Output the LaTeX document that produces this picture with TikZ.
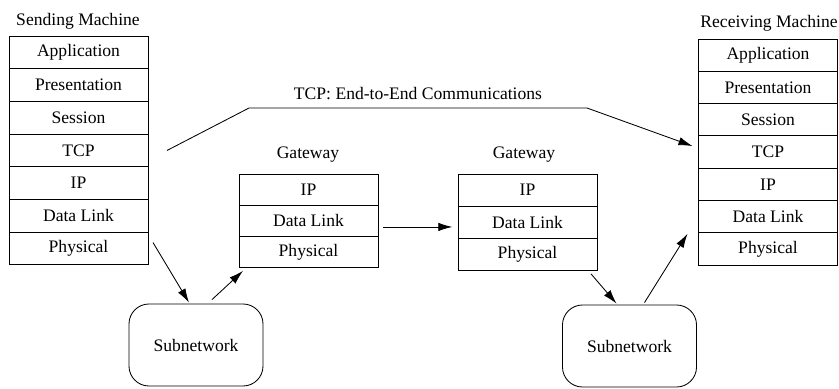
\documentclass[tikz,border=0pt]{standalone}
\usepackage{fontspec}
\setmainfont{Liberation Serif}
\usetikzlibrary{arrows.meta, calc}

\tikzset{
	layer/.style={draw, line width=0.6pt, minimum width=3.475cm, minimum height=#1, inner sep=0pt, outer sep=0pt},
	subnet/.style={draw, line width=0.6pt, rounded corners=0.5cm, minimum width=3.35cm, minimum height=2.05cm},
	link/.style={line width=0.6pt, -{Latex[length=10pt, width=6pt]}},
}

\begin{document}
\begin{tikzpicture}[x=0.025cm, y=-0.025cm, every node/.style={font=\fontsize{12.5}{14}\selectfont}]
		
		\useasboundingbox (0,0) rectangle (839,388);
		
		% end machines
		\foreach \t [count=\i] in {Application, Presentation, Session, TCP, IP, Data Link, Physical}
		\node[layer=0.8175cm] (s\i) at (78.5, {36+32.7*(\i-0.5)}) {\t};
		
		\foreach \t [count=\i] in {Application, Presentation, Session, TCP, IP, Data Link, Physical}
		\node[layer=0.8075cm] (r\i) at (768, {39+32.3*(\i-0.5)}) {\t};
		
		\node (sendlbl) at (78, 21) {Sending Machine};
		\node (recvlbl) at (769, 23) {Receiving Machine};
		
		% gateways
		\foreach \t [count=\i] in {IP, Data Link, Physical}
		\node[layer=0.7825cm] (ga\i) at (308.5, {174+31.3*(\i-0.5)}) {\t};
		
		\foreach \t [count=\i] in {IP, Data Link, Physical}
		\node[layer=0.8075cm] (gb\i) at (527.5, {174+32.3*(\i-0.5)}) {\t};
		
		\node (galbl) at (308, 155) {Gateway};
		\node (gblbl) at (524, 155) {Gateway};
		
		\node[subnet] (netA) at (196, 345) {Subnetwork};
		\node[subnet] (netB) at (629.5, 346) {Subnetwork};
		
		\coordinate (dl) at ([shift={(5,6)}]ga2.east);
		
		\draw[link] ([shift={(5,-6)}]s7.east) -- ([shift={(-7,-1)}]netA.north);
		\draw[link] ([shift={(16,-4)}]netA.north) -- ([shift={(4,3)}]ga3.south west);
		\draw[link, shorten >=4pt] (dl) -- (dl -| gb2.west);
		\draw[link] ([shift={(-6,3)}]gb3.south east) -- ([shift={(-13,-1)}]netB.north);
		\draw[link] ([shift={(15,-2)}]netB.north) -- ([shift={(-11,1)}]r7.north west);
		
		%% end-to-end
		\draw[link] ([shift={(19,0)}]s4.east) -- (249,108) -- node[above=2pt] (tcplbl) {TCP: End-to-End Communications} (587,108) -- ([shift={(-6,-6)}]r4.west);
		
		\end{tikzpicture}
\end{document}
